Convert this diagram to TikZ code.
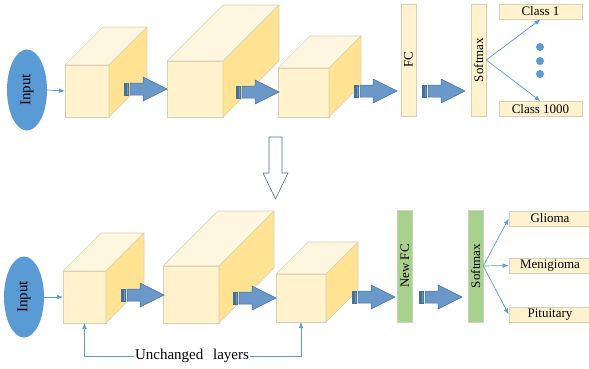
\documentclass[tikz,border=0pt]{standalone}
\usepackage{fontspec}
\setmainfont{Liberation Serif}
\usepackage{tikz}
\usetikzlibrary{shapes.geometric,arrows.meta}

\definecolor{facefront}{HTML}{FFF2CC}
\definecolor{facetop}{HTML}{FFF6DF}
\definecolor{faceside}{HTML}{FFE393}
\definecolor{faceedge}{HTML}{D8D0B8}
\definecolor{newgreen}{HTML}{A9D18E}
\definecolor{newgreenedge}{HTML}{C9D6BE}
\definecolor{arrowfill}{HTML}{6A98C9}
\definecolor{arrowline}{HTML}{41719C}
\definecolor{inputblue}{HTML}{5B9BD5}

\tikzset{
  front/.style={draw=faceedge,fill=facefront,line width=0.6pt,inner sep=0pt,outer sep=0pt,anchor=north west},
  topface/.style={draw=faceedge,fill=facetop,line width=0.6pt,line join=round},
  sideface/.style={draw=faceedge,fill=faceside,line width=0.6pt,line join=round},
  inputnode/.style={ellipse,fill=inputblue,minimum width=40pt,minimum height=81pt,inner sep=0pt,font=\fontsize{15}{17}\selectfont},
  bar/.style={draw=faceedge,fill=facefront,line width=0.6pt,rotate=90,minimum width=112pt,minimum height=15pt,inner sep=0pt,font=\fontsize{13}{15}\selectfont},
  newbar/.style={bar,draw=newgreenedge,fill=newgreen},
  classbox/.style={draw=faceedge,fill=facefront,line width=0.6pt,minimum height=15pt,inner sep=0pt,font=\fontsize{13}{15}\selectfont},
  thinarrow/.style={draw=inputblue,line width=0.7pt,-{Latex[length=6pt,width=4.5pt]}},
  fatarrow/.style={draw=arrowline,fill=arrowfill,line width=0.5pt,line join=miter},
  dotnode/.style={circle,fill=inputblue,minimum size=8pt,inner sep=0pt}
}

% front face named #1, top-left corner (#2,#3), size #4 x #5, depth #6
\newcommand{\layer}[6]{%
  \node[front,minimum width=#4pt,minimum height=#5pt] (#1) at (#2,#3) {};
  \draw[topface] (#1.north west) -- ++(#6,-#6) -- ++(#4,0) -- (#1.north east) -- cycle;
  \draw[sideface] (#1.north east) -- ++(#6,-#6) -- ++(0,#5) -- (#1.south east) -- cycle;
}

% striped block arrow, tail at (#1,#2)
\newcommand{\fatarrow}[2]{%
  \draw[fatarrow] (#1,#2-6) rectangle (#1+1.2,#2+6);
  \draw[fatarrow] (#1+2.6,#2-6) rectangle (#1+4.6,#2+6);
  \draw[fatarrow] (#1+6,#2-6) -- (#1+19,#2-6) -- (#1+19,#2-12) -- (#1+43,#2)
    -- (#1+19,#2+12) -- (#1+19,#2+6) -- (#1+6,#2+6) -- cycle;
}

\begin{document}
\begin{tikzpicture}[x=1pt,y=-1pt]
  \useasboundingbox (0,0) rectangle (589,368);

  % pretrained network
  \node[inputnode] (in1) at (27,90) {\rotatebox{90}{Input}};
  \layer{ca}{65}{65}{44}{52}{38}
  \layer{cb}{167}{61}{56}{56}{56}
  \layer{cc}{278}{68}{51}{49}{32}
  \fatarrow{124}{89}
  \fatarrow{236}{92}
  \fatarrow{354}{91}
  \fatarrow{422}{91}
  \node[bar] (fc) at (408.5,60) {FC};
  \node[bar] (sm1) at (478.5,60) {Softmax};
  \node[classbox,minimum width=83pt] (cl1) at (540.5,11.5) {Class 1};
  \node[classbox,minimum width=83pt] (cl1000) at (540.5,109) {Class 1000};
  \foreach \i/\y in {1/47,2/61,3/74}
    \node[dotnode] (dot\i) at (540,\y) {};
  \draw[thinarrow] (in1.east) -- (ca.west);
  \draw[thinarrow] (sm1.south) -- (cl1.south);
  \draw[thinarrow] (sm1.south) -- (cl1000.north);

  % transfer
  \draw[draw=arrowline,fill=white,line width=0.6pt,line join=miter]
    (269,137) -- (282,137) -- (282,173) -- (288,173) -- (275.5,199)
    -- (263,173) -- (269,173) -- cycle;

  % fine-tuned network
  \node[inputnode] (in2) at (24,297) {\rotatebox{90}{Input}};
  \layer{da}{63}{271}{43}{52}{38}
  \layer{db}{163}{266}{56}{57}{55}
  \layer{dc}{276}{274}{50}{48}{32}
  \fatarrow{121}{295}
  \fatarrow{233}{298}
  \fatarrow{352}{297}
  \fatarrow{419}{297}
  \node[newbar] (newfc) at (405,266) {New FC};
  \node[newbar] (sm2) at (475.5,266) {Softmax};
  \node[classbox,minimum width=82pt] (glioma) at (550,218.5) {Glioma};
  \node[classbox,minimum width=82pt] (menigioma) at (550,265.5) {Menigioma};
  \node[classbox,minimum width=82pt] (pituitary) at (550,314.5) {Pituitary};
  \draw[thinarrow] (in2.east) -- (da.west);
  \draw[thinarrow] (sm2.south) -- (glioma.west);
  \draw[thinarrow] (sm2.south) -- (menigioma.west);
  \draw[thinarrow] (sm2.south) -- (pituitary.west);

  \node[font=\fontsize{15}{17}\selectfont,inner sep=1pt] (keep) at (192,356) {Unchanged\hspace{0.4em} layers};
  \draw[thinarrow] (keep.west) -| (da.south);
  \draw[thinarrow] (keep.east) -| (dc.south);
\end{tikzpicture}
\end{document}
